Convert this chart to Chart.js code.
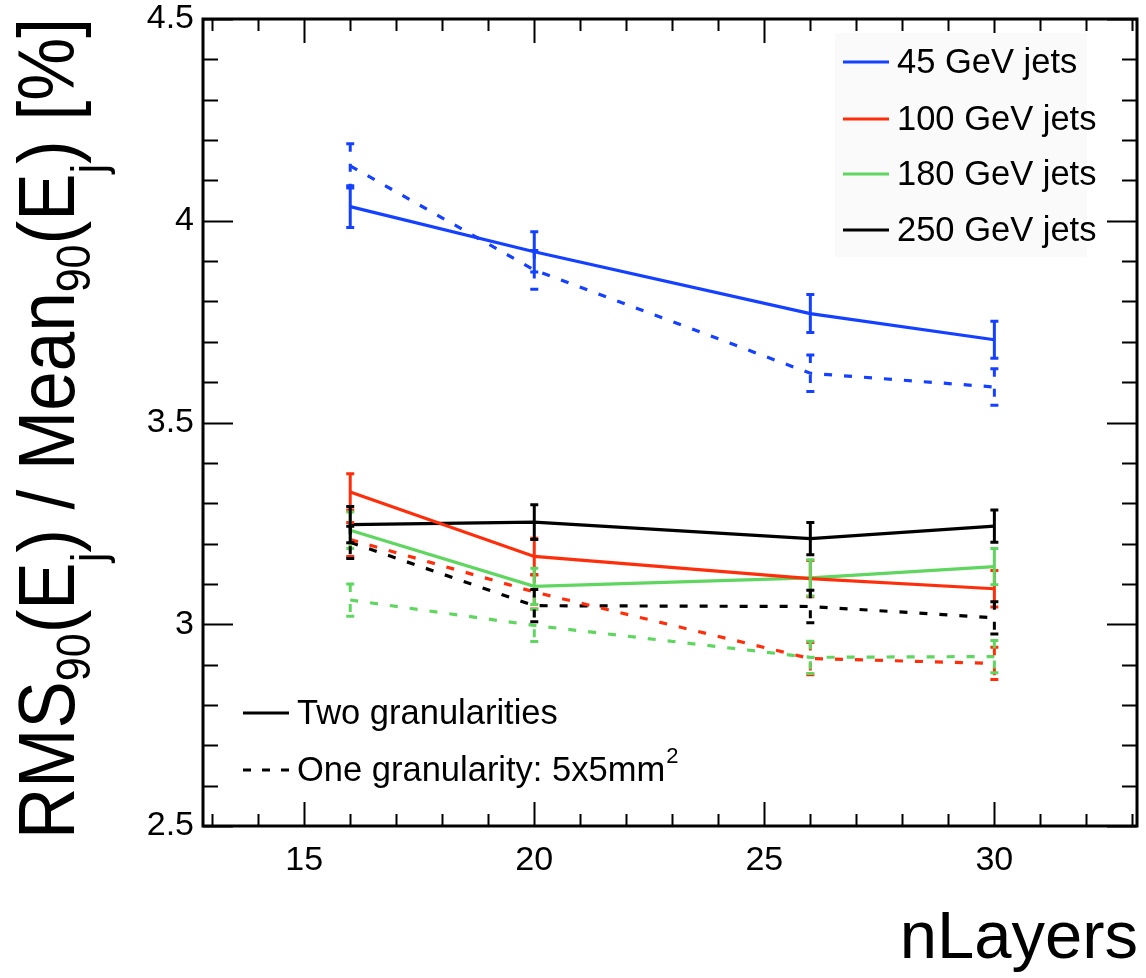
<!DOCTYPE html>
<html>
<head>
<meta charset="utf-8">
<script src="https://cdn.jsdelivr.net/npm/chart.js@4.4.1/dist/chart.umd.min.js"></script>
<style>
  html, body { margin: 0; padding: 0; background: #ffffff; }
  #wrap { width: 1146px; height: 978px; }
</style>
</head>
<body>
<div id="wrap"><canvas id="c" width="1146" height="978"></canvas></div>
<script>
// ---------------- data ----------------
const nLayers = [16, 20, 26, 30];
const xTickLabels = [15, 20, 25, 30];
const yTickLabels = [2.5, 3, 3.5, 4, 4.5];

const seriesNames = ['45 GeV jets', '100 GeV jets', '180 GeV jets', '250 GeV jets'];

const jet45Two   = [4.035, 3.923, 3.770, 3.705];
const jet45TwoE  = [0.052, 0.050, 0.047, 0.046];
const jet45One   = [4.136, 3.878, 3.622, 3.588];
const jet45OneE  = [0.055, 0.048, 0.045, 0.045];

const jet100Two  = [3.328, 3.168, 3.113, 3.088];
const jet100TwoE = [0.045, 0.045, 0.045, 0.045];
const jet100One  = [3.210, 3.080, 2.915, 2.903];
const jet100OneE = [0.042, 0.042, 0.040, 0.040];

const jet180Two  = [3.233, 3.094, 3.115, 3.143];
const jet180TwoE = [0.045, 0.045, 0.045, 0.045];
const jet180One  = [3.060, 2.997, 2.918, 2.920];
const jet180OneE = [0.040, 0.040, 0.040, 0.040];

const jet250Two  = [3.247, 3.253, 3.212, 3.243];
const jet250TwoE = [0.045, 0.043, 0.040, 0.040];
const jet250One  = [3.203, 3.046, 3.044, 3.016];
const jet250OneE = [0.040, 0.040, 0.040, 0.040];

const styleNames = ['Two granularities', 'One granularity: 5x5mm'];

// ---------------- styling ----------------
const COLORS = ['#1440ff', '#ff2e0a', '#5fd65f', '#000000'];
const DASH = [8, 12];
const FONT = '"Liberation Sans", Arial, Helvetica, sans-serif';

function mk(label, ys, errs, color, dashed) {
  return {
    label: label,
    data: nLayers.map((x, i) => ({ x: x, y: ys[i] })),
    errs: errs,
    borderColor: color,
    backgroundColor: color,
    borderWidth: 3.2,
    borderDash: dashed ? DASH : [],
    pointRadius: 0,
    tension: 0,
    fill: false
  };
}

const datasets = [
  mk(seriesNames[0], jet45Two,  jet45TwoE,  COLORS[0], false),
  mk(seriesNames[0], jet45One,  jet45OneE,  COLORS[0], true),
  mk(seriesNames[1], jet100Two, jet100TwoE, COLORS[1], false),
  mk(seriesNames[1], jet100One, jet100OneE, COLORS[1], true),
  mk(seriesNames[2], jet180Two, jet180TwoE, COLORS[2], false),
  mk(seriesNames[2], jet180One, jet180OneE, COLORS[2], true),
  mk(seriesNames[3], jet250Two, jet250TwoE, COLORS[3], false),
  mk(seriesNames[3], jet250One, jet250OneE, COLORS[3], true)
];

// ---------------- plugin ----------------
const rootStyle = {
  id: 'rootStyle',
  afterDatasetsDraw(chart) {
    const ctx = chart.ctx;
    const xs = chart.scales.x, ys = chart.scales.y;
    ctx.save();
    chart.data.datasets.forEach((ds) => {
      ctx.strokeStyle = ds.borderColor;
      ctx.lineWidth = 3;
      ctx.setLineDash(ds.borderDash);
      ds.data.forEach((p, i) => {
        const e = ds.errs[i];
        const px = xs.getPixelForValue(p.x);
        const yt = ys.getPixelForValue(p.y + e);
        const yb = ys.getPixelForValue(p.y - e);
        ctx.beginPath();
        ctx.moveTo(px, yt); ctx.lineTo(px, yb);
        ctx.stroke();
        ctx.setLineDash([]);
        ctx.beginPath();
        ctx.moveTo(px - 4, yt); ctx.lineTo(px + 4, yt);
        ctx.moveTo(px - 4, yb); ctx.lineTo(px + 4, yb);
        ctx.stroke();
        ctx.setLineDash(ds.borderDash);
      });
    });
    ctx.restore();
  },
  afterDraw(chart) {
    const ctx = chart.ctx;
    const a = chart.chartArea;
    const xs = chart.scales.x, ys = chart.scales.y;
    ctx.save();
    // frame
    ctx.strokeStyle = '#000';
    ctx.lineWidth = 3;
    ctx.setLineDash([]);
    ctx.strokeRect(a.left, a.top, a.right - a.left, a.bottom - a.top);
    // ticks
    ctx.lineWidth = 2;
    ctx.beginPath();
    for (let v = 13; v <= 33; v++) {
      const px = Math.round(xs.getPixelForValue(v)) + 0.5;
      const len = (v % 5 === 0) ? 24 : 12;
      ctx.moveTo(px, a.bottom); ctx.lineTo(px, a.bottom - len);
      ctx.moveTo(px, a.top); ctx.lineTo(px, a.top + len);
    }
    for (let k = 0; k <= 20; k++) {
      const v = 2.5 + k * 0.1;
      const py = Math.round(ys.getPixelForValue(v)) + 0.5;
      const len = (k % 5 === 0) ? 30 : 15;
      ctx.moveTo(a.left, py); ctx.lineTo(a.left + len, py);
      ctx.moveTo(a.right, py); ctx.lineTo(a.right - len, py);
    }
    ctx.stroke();

    // series legend (top right)
    ctx.fillStyle = '#fafafa';
    ctx.fillRect(835, 33, 252, 224);
    ctx.font = '34.5px ' + FONT;
    ctx.textBaseline = 'middle';
    ctx.textAlign = 'left';
    const rows = [62, 119, 174, 230];
    seriesNames.forEach((name, i) => {
      ctx.strokeStyle = COLORS[i];
      ctx.lineWidth = 3.2;
      ctx.beginPath();
      ctx.moveTo(843, rows[i]); ctx.lineTo(889, rows[i]);
      ctx.stroke();
      ctx.fillStyle = '#000';
      ctx.fillText(name, 897, rows[i] + 1);
    });

    // style legend (bottom left)
    ctx.strokeStyle = '#000';
    ctx.lineWidth = 3.2;
    ctx.beginPath();
    ctx.moveTo(243, 713); ctx.lineTo(289, 713);
    ctx.stroke();
    ctx.setLineDash([8, 11]);
    ctx.beginPath();
    ctx.moveTo(243, 770); ctx.lineTo(292, 770);
    ctx.stroke();
    ctx.setLineDash([]);
    ctx.fillStyle = '#000';
    ctx.fillText(styleNames[0], 297, 714);
    ctx.fillText(styleNames[1], 297, 771);
    const w1 = ctx.measureText(styleNames[1]).width;
    ctx.font = '22px ' + FONT;
    ctx.fillText('2', 297 + w1 + 1, 757);

    // x title
    ctx.font = '67px ' + FONT;
    ctx.textAlign = 'right';
    ctx.textBaseline = 'alphabetic';
    ctx.fillText('nLayers', 1138, 958);

    // y title (rotated, with subscripts)
    const parts = [
      { t: 'RMS', s: 0 }, { t: '90', s: 1 }, { t: '(E', s: 0 }, { t: 'j', s: 2 },
      { t: ') / Mean', s: 0 }, { t: '90', s: 1 }, { t: '(E', s: 0 }, { t: 'j', s: 2 },
      { t: ') [%]', s: 0 }
    ];
    const big = '71px ' + FONT, small = '43px ' + FONT;
    let total = 0;
    parts.forEach(p => { ctx.font = p.s ? small : big; p.w = ctx.measureText(p.t).width; total += p.w; });
    ctx.translate(74, 18 + total);
    ctx.rotate(-Math.PI / 2);
    ctx.scale(1, 1.13);
    ctx.textAlign = 'left';
    let cx = 0;
    parts.forEach(p => {
      ctx.font = p.s ? small : big;
      const dy = p.s === 1 ? 14 : (p.s === 2 ? 27 : 0);
      ctx.fillText(p.t, cx, dy);
      cx += p.w;
    });
    ctx.restore();
  }
};

new Chart(document.getElementById('c'), {
  type: 'line',
  data: { datasets: datasets },
  options: {
    responsive: false,
    animation: false,
    layout: { padding: { left: 0, top: 19, right: 9, bottom: 0 } },
    plugins: { legend: { display: false }, tooltip: { enabled: false } },
    scales: {
      x: {
        type: 'linear',
        min: 12.8,
        max: 33.1,
        grid: { display: false, drawTicks: false },
        border: { display: false },
        afterBuildTicks: (s) => { s.ticks = xTickLabels.map(v => ({ value: v })); },
        afterFit: (s) => { s.height = 152; s.paddingLeft = 0; s.paddingRight = 0; },
        ticks: {
          color: '#000',
          padding: 14,
          maxRotation: 0,
          font: { family: FONT, size: 34 },
          callback: (v) => String(v)
        }
      },
      y: {
        type: 'linear',
        min: 2.5,
        max: 4.5,
        grid: { display: false, drawTicks: false },
        border: { display: false },
        afterBuildTicks: (s) => { s.ticks = yTickLabels.map(v => ({ value: v })); },
        afterFit: (s) => { s.width = 203; s.paddingTop = 0; s.paddingBottom = 0; },
        ticks: {
          color: '#000',
          padding: 9,
          font: { family: FONT, size: 34 },
          callback: (v) => String(v)
        }
      }
    }
  },
  plugins: [rootStyle]
});
</script>
</body>
</html>
